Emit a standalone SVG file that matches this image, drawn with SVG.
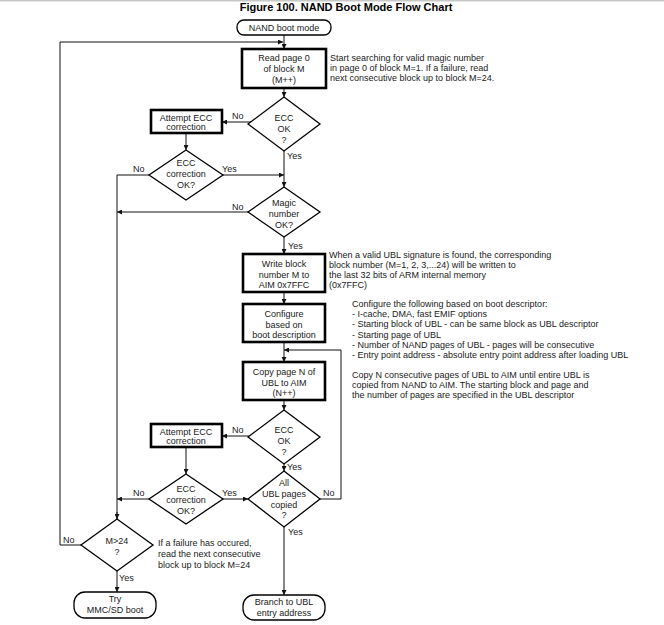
<svg xmlns="http://www.w3.org/2000/svg" width="664" height="625" viewBox="0 0 664 625">
<defs>
<marker id="ah" viewBox="0 0 10 10" refX="10" refY="5" markerWidth="5" markerHeight="5" orient="auto" markerUnits="userSpaceOnUse"><path d="M0,0 L10,5 L0,10 z" fill="#111"/></marker>
<style>
text{font-family:"Liberation Sans",Arial,sans-serif;font-size:9px;fill:#1a1a1a}
.c{text-anchor:middle}
.t{font-size:11px;font-weight:bold;fill:#000}
.box{fill:#fff;stroke:#000;stroke-width:2.6}
.dia{fill:#fff;stroke:#000;stroke-width:1.3}
.term{fill:#fff;stroke:#000;stroke-width:1.3}
.ln{fill:none;stroke:#111;stroke-width:1}
.ar{fill:none;stroke:#111;stroke-width:1;marker-end:url(#ah)}
</style>
</defs>
<rect x="0" y="0" width="664" height="625" fill="#fff"/>
<line x1="0" y1="0.7" x2="664" y2="0.7" stroke="#c8c8c8" stroke-width="1.5"/>
<text class="t c" x="346" y="11">Figure 100. NAND Boot Mode Flow Chart</text>

<g id="connectors">
<path class="ar" d="M284,35 V49"/>
<path class="ar" d="M81,545 H60 V42 H283"/>
<path class="ar" d="M284,88 V97"/>
<path class="ar" d="M251,122 H222"/>
<path class="ar" d="M186,133 V150"/>
<path class="ln" d="M149,175 H117 V519"/>
<path class="ar" d="M117,512 V519"/>
<path class="ar" d="M223,175 H284"/>
<path class="ar" d="M284,151 V187"/>
<path class="ar" d="M248,212 H117"/>
<path class="ar" d="M284,237 V254"/>
<path class="ar" d="M284,292 V304"/>
<path class="ar" d="M284,342 V362"/>
<path class="ar" d="M320,499 H341 V350 H284"/>
<path class="ar" d="M284,400 V410"/>
<path class="ar" d="M249,436 H222"/>
<path class="ar" d="M186,447 V474"/>
<path class="ar" d="M149,499 H117"/>
<path class="ar" d="M223,499 H248"/>
<path class="ar" d="M284,464 V471"/>
<path class="ar" d="M284,527 V595"/>
<path class="ar" d="M117,571 V592"/>
<text x="232" y="119">No</text>
<text x="287" y="159">Yes</text>
<text x="133" y="172">No</text>
<text x="222" y="172">Yes</text>
<text x="232" y="210">No</text>
<text x="288" y="249">Yes</text>
<text x="232" y="433">No</text>
<text x="287" y="470">Yes</text>
<text x="133" y="496">No</text>
<text x="222" y="496">Yes</text>
<text x="323" y="496">No</text>
<text x="288" y="535">Yes</text>
<text x="63" y="543">No</text>
<text x="119" y="581">Yes</text>
</g>

<g id="start">
<rect class="term" x="237" y="20" width="94" height="15" rx="7"/>
<text class="c" x="284" y="31">NAND boot mode</text>
</g>

<g id="read-page">
<rect class="box" x="242" y="49" width="84" height="39"/>
<text class="c" x="284" y="61">Read page 0</text>
<text class="c" x="284" y="72">of block M</text>
<text class="c" x="284" y="83">(M++)</text>
</g>
<g id="note-read">
<text x="330" y="61">Start searching for valid magic number</text>
<text x="330" y="71">in page 0 of block M=1. If a failure, read</text>
<text x="330" y="81">next consecutive block up to block M=24.</text>
</g>

<g id="ecc-ok-1">
<polygon class="dia" points="284,97 320,124 284,151 248,124"/>
<text class="c" x="284" y="121">ECC</text>
<text class="c" x="284" y="132">OK</text>
<text class="c" x="284" y="143">?</text>
</g>

<g id="attempt-ecc-1">
<rect class="box" x="151" y="110" width="71" height="23"/>
<text class="c" x="186" y="121">Attempt ECC</text>
<text class="c" x="186" y="130">correction</text>
</g>

<g id="ecc-corr-1">
<polygon class="dia" points="186,150 223,175 186,200 149,175"/>
<text class="c" x="186" y="166">ECC</text>
<text class="c" x="186" y="177">correction</text>
<text class="c" x="186" y="188">OK?</text>
</g>

<g id="magic">
<polygon class="dia" points="284,187 320,212 284,237 248,212"/>
<text class="c" x="284" y="206">Magic</text>
<text class="c" x="284" y="217">number</text>
<text class="c" x="284" y="228">OK?</text>
</g>

<g id="write-block">
<rect class="box" x="243" y="254" width="82" height="38"/>
<text class="c" x="284" y="267">Write block</text>
<text class="c" x="284" y="278">number M to</text>
<text class="c" x="284" y="288">AIM 0x7FFC</text>
</g>
<g id="note-write">
<text x="329" y="258">When a valid UBL signature is found, the corresponding</text>
<text x="329" y="268">block number (M=1, 2, 3,...24) will be written to</text>
<text x="329" y="278">the last 32 bits of ARM internal memory</text>
<text x="329" y="288">(0x7FFC)</text>
</g>

<g id="configure">
<rect class="box" x="243" y="304" width="82" height="38"/>
<text class="c" x="284" y="317">Configure</text>
<text class="c" x="284" y="328">based on</text>
<text class="c" x="284" y="338">boot description</text>
</g>
<g id="note-config">
<text x="352" y="307">Configure the following based on boot descriptor:</text>
<text x="352" y="317">- I-cache, DMA, fast EMIF options</text>
<text x="352" y="327">- Starting block of UBL - can be same block as UBL descriptor</text>
<text x="352" y="338">- Starting page of UBL</text>
<text x="352" y="348">- Number of NAND pages of UBL - pages will be consecutive</text>
<text x="352" y="358">- Entry point address - absolute entry point address after loading UBL</text>
<text x="352" y="378">Copy N consecutive pages of UBL to AIM until entire UBL is</text>
<text x="352" y="388">copied from NAND to AIM. The starting block and page and</text>
<text x="352" y="398">the number of pages are specified in the UBL descriptor</text>
</g>

<g id="copy-page">
<rect class="box" x="243" y="362" width="82" height="38"/>
<text class="c" x="284" y="375">Copy page N of</text>
<text class="c" x="284" y="386">UBL to AIM</text>
<text class="c" x="284" y="396">(N++)</text>
</g>

<g id="ecc-ok-2">
<polygon class="dia" points="284,410 320,437 284,464 248,437"/>
<text class="c" x="284" y="433">ECC</text>
<text class="c" x="284" y="444">OK</text>
<text class="c" x="284" y="455">?</text>
</g>

<g id="attempt-ecc-2">
<rect class="box" x="151" y="424" width="71" height="23"/>
<text class="c" x="186" y="435">Attempt ECC</text>
<text class="c" x="186" y="444">correction</text>
</g>

<g id="ecc-corr-2">
<polygon class="dia" points="186,474 223,499 186,524 149,499"/>
<text class="c" x="186" y="492">ECC</text>
<text class="c" x="186" y="503">correction</text>
<text class="c" x="186" y="514">OK?</text>
</g>

<g id="all-pages">
<polygon class="dia" points="284,471 320,499 284,527 248,499"/>
<text class="c" x="284" y="486">All</text>
<text class="c" x="284" y="497">UBL pages</text>
<text class="c" x="284" y="508">copied</text>
<text class="c" x="284" y="518">?</text>
</g>

<g id="m24">
<polygon class="dia" points="117,519 153,545 117,571 81,545"/>
<text class="c" x="117" y="544">M&gt;24</text>
<text class="c" x="117" y="555">?</text>
</g>
<g id="note-m24">
<text x="158" y="546">If a failure has occured,</text>
<text x="158" y="557">read the next consecutive</text>
<text x="158" y="568">block up to block M=24</text>
</g>

<g id="try-mmc">
<rect class="term" x="74" y="592" width="82" height="26" rx="11"/>
<text class="c" x="115" y="602">Try</text>
<text class="c" x="115" y="613">MMC/SD boot</text>
</g>

<g id="branch">
<rect class="term" x="243" y="595" width="82" height="25" rx="11"/>
<text class="c" x="284" y="605">Branch to UBL</text>
<text class="c" x="284" y="616">entry address</text>
</g>
</svg>
